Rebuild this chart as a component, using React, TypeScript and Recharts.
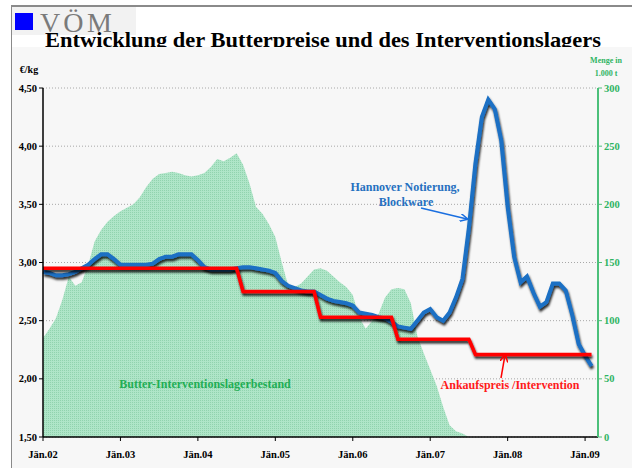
import React from 'react';
import { ComposedChart, Area, Line, XAxis, YAxis, CartesianGrid } from 'recharts';

const W = 632;
const H = 468;
const serif = '"Liberation Serif", "Times New Roman", serif';

// Hannover Notierung, Blockware (€/kg), monthly from Jän.02
const hannover = [
  2.92, 2.91, 2.89, 2.89, 2.9, 2.92, 2.95, 2.98, 3.03, 3.07, 3.07, 3.03,
  2.98, 2.98, 2.98, 2.98, 2.98, 2.99, 3.03, 3.05, 3.05, 3.07, 3.07, 3.07,
  3.02, 2.96, 2.94, 2.94, 2.94, 2.94, 2.95, 2.96, 2.96, 2.95, 2.94, 2.93,
  2.91, 2.84, 2.8, 2.78, 2.76, 2.75, 2.75, 2.72, 2.69, 2.67, 2.66, 2.65,
  2.63, 2.57, 2.56, 2.55, 2.53, 2.52, 2.49, 2.45, 2.44, 2.43, 2.5, 2.57,
  2.6, 2.53, 2.5, 2.57, 2.7, 2.86, 3.3, 3.85, 4.25, 4.4, 4.32, 4.05,
  3.48, 3.05, 2.83, 2.88, 2.74, 2.62, 2.66, 2.82, 2.82, 2.76, 2.55, 2.3,
  2.2, 2.11,
];

// Ankaufspreis / Intervention (€/kg)
const ankauf = [
  2.95, 2.95, 2.95, 2.95, 2.95, 2.95, 2.95, 2.95, 2.95, 2.95, 2.95, 2.95,
  2.95, 2.95, 2.95, 2.95, 2.95, 2.95, 2.95, 2.95, 2.95, 2.95, 2.95, 2.95,
  2.95, 2.95, 2.95, 2.95, 2.95, 2.95, 2.95, 2.75, 2.75, 2.75, 2.75, 2.75,
  2.75, 2.75, 2.75, 2.75, 2.75, 2.75, 2.75, 2.53, 2.53, 2.53, 2.53, 2.53,
  2.53, 2.53, 2.53, 2.53, 2.53, 2.53, 2.53, 2.34, 2.34, 2.34, 2.34, 2.34,
  2.34, 2.34, 2.34, 2.34, 2.34, 2.34, 2.34, 2.21, 2.21, 2.21, 2.21, 2.21,
  2.21, 2.21, 2.21, 2.21, 2.21, 2.21, 2.21, 2.21, 2.21, 2.21, 2.21, 2.21,
  2.21, 2.21,
];

// Butter-Interventionslagerbestand (1.000 t)
const lager = [
  85, 93, 102, 118, 138, 130, 133, 148, 168, 178, 185, 190,
  194, 197, 200, 206, 215, 222, 226, 227, 228, 227, 225, 224,
  225, 227, 232, 239, 237, 240, 244, 234, 218, 198, 192, 183,
  172, 150, 130, 129, 132, 138, 144, 145, 143, 138, 133, 129,
  122, 103, 93, 100, 106, 120, 127, 128, 127, 115, 87, 72,
  58, 44, 26, 10, 5, 3, 0,
];

const yearTicks = [0, 12, 24, 36, 48, 60, 72, 84];
const yearLabels = ['Jän.02', 'Jän.03', 'Jän.04', 'Jän.05', 'Jän.06', 'Jän.07', 'Jän.08', 'Jän.09'];
const priceTicks = [1.5, 2, 2.5, 3, 3.5, 4, 4.5];
const stockTicks = [0, 50, 100, 150, 200, 250, 300];

const rows = hannover.map((p, i) => ({
  m: i,
  price: p,
  buy: ankauf[i] ?? null,
  stock: i < lager.length ? lager[i] : null,
}));

const PriceTick = (props: any) => (
  <text x={props.x} y={props.y} dy={3.5} textAnchor="end" fontFamily={serif} fontSize={10.5} fontWeight={700} fill="#000">
    {Number(props.payload.value).toFixed(2).replace('.', ',')}
  </text>
);

const StockTick = (props: any) => (
  <text x={props.x} y={props.y} dy={3.5} textAnchor="start" fontFamily={serif} fontSize={10.5} fontWeight={700} fill="#2fb463">
    {props.payload.value}
  </text>
);

const YearTick = (props: any) => (
  <text x={props.x} y={props.y} dy={13} textAnchor="middle" fontFamily={serif} fontSize={10.5} fontWeight={700} fill="#000">
    {yearLabels[yearTicks.indexOf(props.payload.value)] ?? ''}
  </text>
);

export default function App() {
  return (
    <div style={{ position: 'fixed', left: 0, top: 0, width: W, height: H, background: '#fff', overflow: 'hidden', fontFamily: serif }}>
      <div style={{ position: 'absolute', left: 11, top: 5, right: 0, bottom: 0, borderLeft: '1px solid #8a8a8a', borderTop: '2px solid #8a8a8a' }} />
      <div style={{ position: 'absolute', left: 12, top: 7, width: 124, height: 28, background: '#f2f2f2' }} />
      <div style={{ position: 'absolute', left: 15, top: 13, width: 18, height: 17, background: '#0000ff' }} />
      <svg width={W} height={H} style={{ position: 'absolute', left: 0, top: 0 }}>
        <text x={40} y={32} fontSize={28} fill="#7a7a7a" textLength={72} lengthAdjust="spacing" fontFamily={serif}>V Ö M</text>
        <text x={45} y={47} fontSize={22} fontWeight={700} fill="#000" textLength={556} lengthAdjust="spacingAndGlyphs" fontFamily={serif}>
          Entwicklung der Butterpreise und des Interventionslagers
        </text>
      </svg>
      <div style={{ position: 'absolute', left: 12, top: 47, width: W - 12, height: H - 47, background: '#f7f7f7' }} />

      <div style={{ position: 'absolute', left: 0, top: 0 }}>
        <ComposedChart width={W} height={H} data={rows} margin={{ top: 88, right: 0, bottom: 0, left: 0 }} style={{ fontFamily: serif }}>
          <defs>
            <pattern id="lagerFill" width="2" height="2" patternUnits="userSpaceOnUse">
              <rect width="2" height="2" fill="#a9e3c4" />
              <rect width="1" height="1" fill="#88d0a8" />
            </pattern>
            <filter id="lineShadow" filterUnits="userSpaceOnUse" x="0" y="0" width={W} height={H}>
              <feDropShadow dx="1" dy="2.5" stdDeviation="1" floodColor="#000" floodOpacity="0.85" />
            </filter>
          </defs>
          <CartesianGrid yAxisId="left" vertical={false} stroke="#a8a8a8" strokeDasharray="1 2" />
          <XAxis
            dataKey="m"
            type="number"
            domain={[0, 86]}
            ticks={yearTicks}
            height={31}
            tickSize={4}
            tickMargin={4}
            axisLine={{ stroke: '#000', strokeWidth: 1.5 }}
            tickLine={{ stroke: '#000' }}
            tick={<YearTick />}
          />
          <YAxis
            yAxisId="left"
            width={43}
            domain={[1.5, 4.5]}
            ticks={priceTicks}
            allowDataOverflow
            tickSize={4}
            axisLine={{ stroke: '#000', strokeWidth: 1.5 }}
            tickLine={{ stroke: '#000' }}
            tick={<PriceTick />}
          />
          <YAxis
            yAxisId="right"
            orientation="right"
            width={34}
            domain={[0, 300]}
            ticks={stockTicks}
            tickSize={4}
            axisLine={{ stroke: '#4cc07a', strokeWidth: 2 }}
            tickLine={{ stroke: '#4cc07a' }}
            tick={<StockTick />}
          />
          <Area
            yAxisId="right"
            dataKey="stock"
            type="linear"
            fill="url(#lagerFill)"
            fillOpacity={0.92}
            stroke="none"
            isAnimationActive={false}
          />
          <Line
            yAxisId="left"
            dataKey="price"
            type="linear"
            stroke="#1a6fc4"
            strokeWidth={4}
            dot={false}
            filter="url(#lineShadow)"
            isAnimationActive={false}
          />
          <Line
            yAxisId="left"
            dataKey="buy"
            type="linear"
            stroke="#ff0000"
            strokeWidth={3.5}
            dot={false}
            filter="url(#lineShadow)"
            isAnimationActive={false}
          />
        </ComposedChart>
      </div>

      <svg width={W} height={H} style={{ position: 'absolute', left: 0, top: 0, pointerEvents: 'none' }}>
        <defs>
          <marker id="headBlue" markerWidth="8" markerHeight="8" refX="7" refY="4" orient="auto" markerUnits="userSpaceOnUse">
            <path d="M0,0 L8,4 L0,8" fill="none" stroke="#1a6fe0" strokeWidth="1.5" />
          </marker>
          <marker id="headRed" markerWidth="8" markerHeight="8" refX="7" refY="4" orient="auto" markerUnits="userSpaceOnUse">
            <path d="M0,0 L8,4 L0,8" fill="none" stroke="#ff0000" strokeWidth="1.5" />
          </marker>
        </defs>
        <text x={29} y={73} textAnchor="middle" fontSize={10} fontWeight={700} fill="#000" fontFamily={serif}>€/kg</text>
        <text x={606} y={63} textAnchor="middle" fontSize={8} fontWeight={700} fill="#2fb463" fontFamily={serif}>Menge in</text>
        <text x={606} y={76} textAnchor="middle" fontSize={8} fontWeight={700} fill="#2fb463" fontFamily={serif}>1.000 t</text>
        <text x={405} y={191} textAnchor="middle" fontSize={12} fontWeight={700} fill="#2670c0" fontFamily={serif}>Hannover Notierung,</text>
        <text x={406} y={206} textAnchor="middle" fontSize={12} fontWeight={700} fill="#2670c0" fontFamily={serif}>Blockware</text>
        <line x1={421} y1={208} x2={467} y2={219} stroke="#1a6fe0" strokeWidth={1.5} markerEnd="url(#headBlue)" />
        <text x={205} y={388} textAnchor="middle" fontSize={12} fontWeight={700} fill="#1fae55" fontFamily={serif}>Butter-Interventionslagerbestand</text>
        <text x={510} y={389} textAnchor="middle" fontSize={12} fontWeight={700} fill="#ff1a1a" fontFamily={serif}>Ankaufspreis /Intervention</text>
        <line x1={501} y1={378} x2={505} y2={355} stroke="#ff0000" strokeWidth={1.5} markerEnd="url(#headRed)" />
      </svg>
    </div>
  );
}
